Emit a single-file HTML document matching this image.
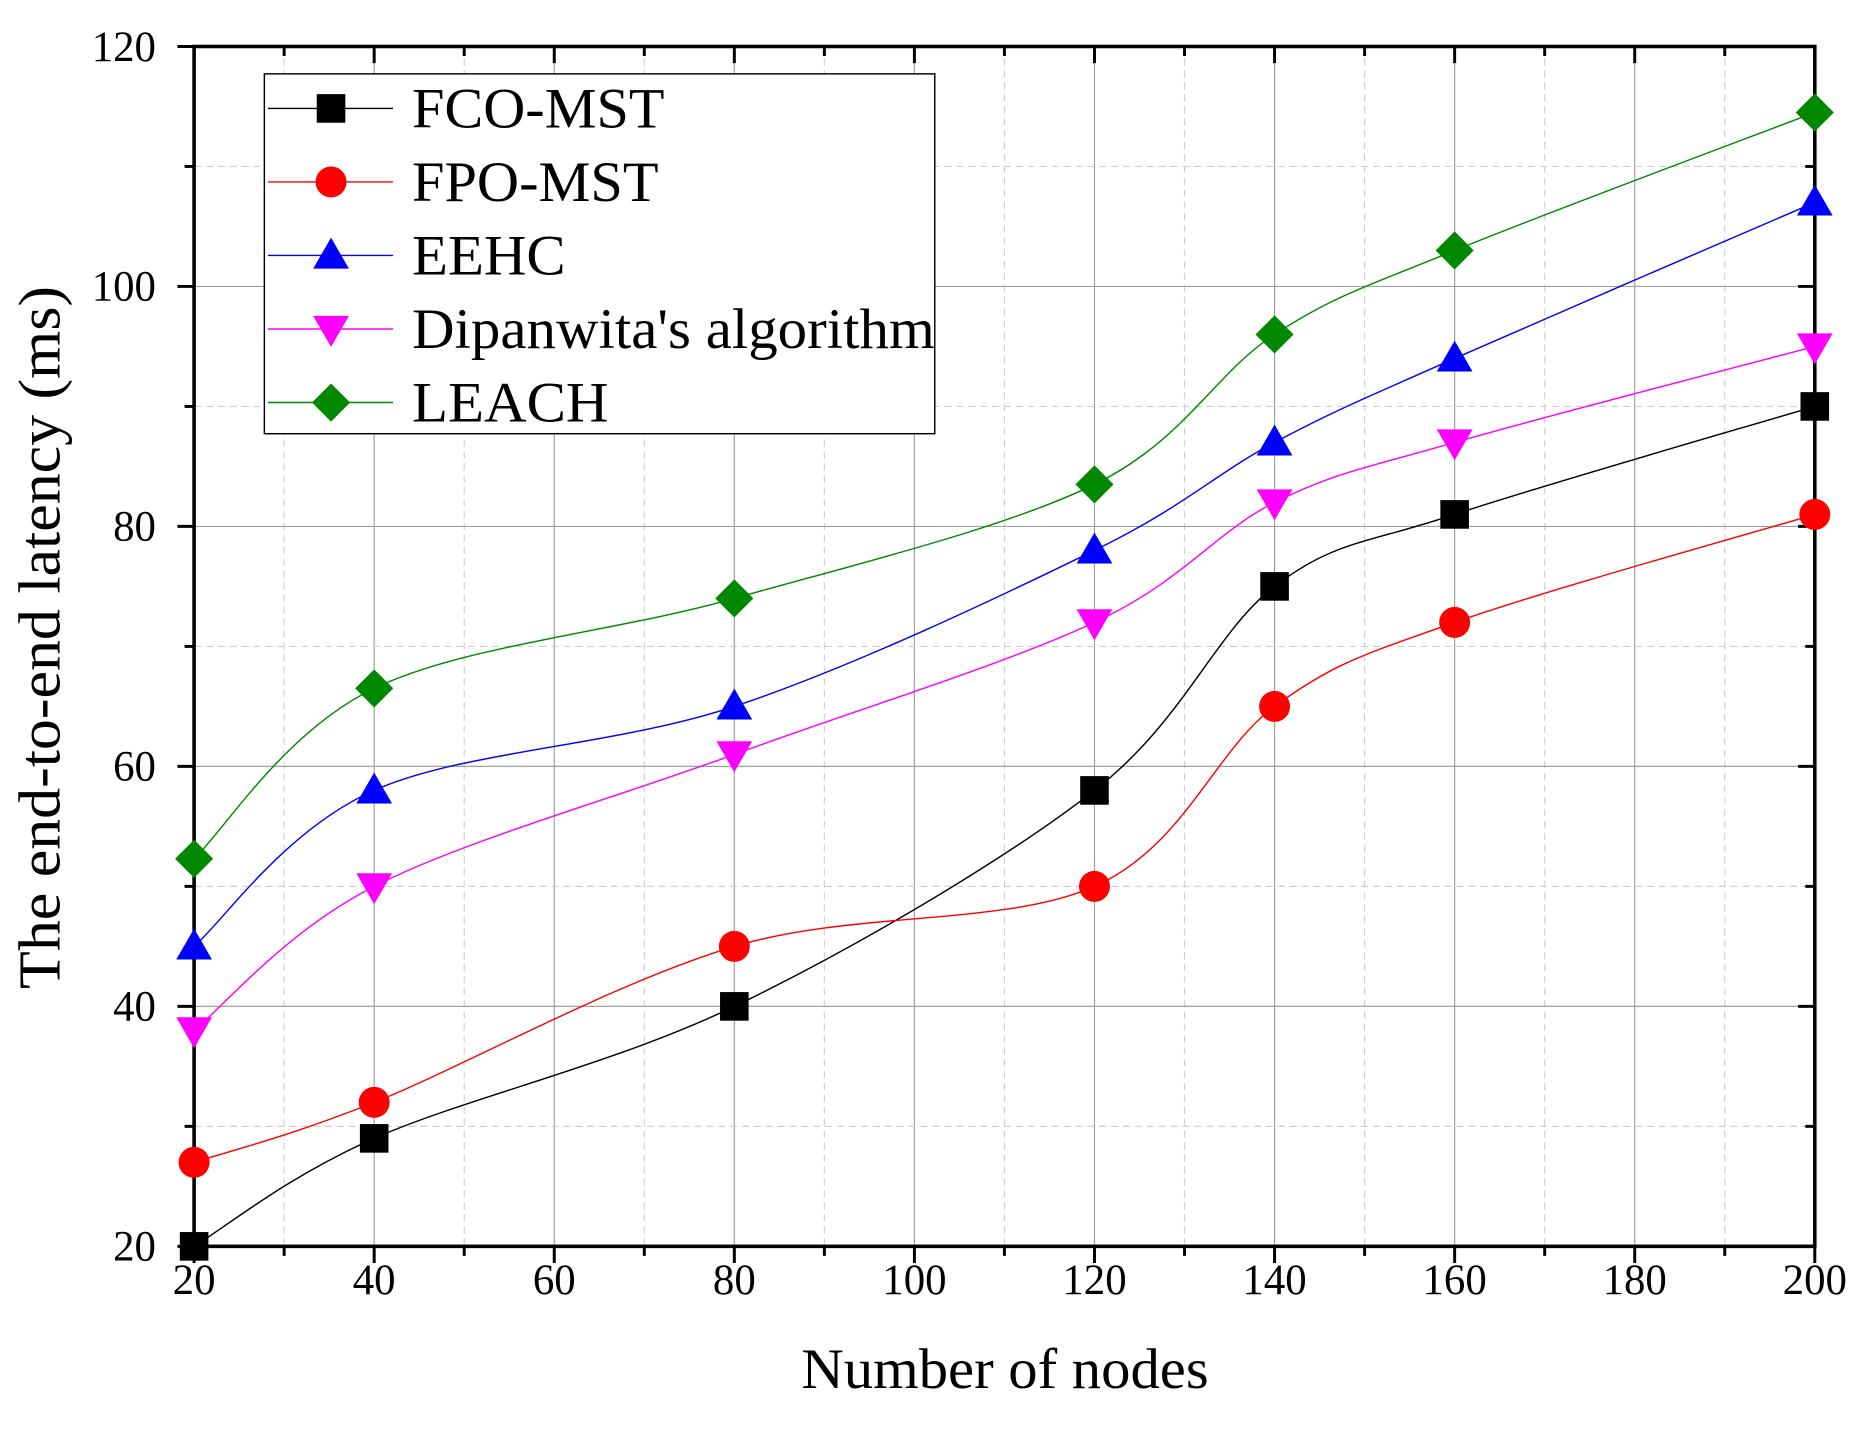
<!DOCTYPE html>
<html><head><meta charset="utf-8"><style>
html,body{margin:0;padding:0;background:#fff;}
svg{display:block;}
text{font-family:"Liberation Serif",serif;fill:#000;}
</style></head><body>
<svg id="s" width="1866" height="1437" viewBox="0 0 1567 1206" preserveAspectRatio="none" xmlns="http://www.w3.org/2000/svg"></svg>
<script>
const s=document.getElementById('s');
const NS='http://www.w3.org/2000/svg';
function el(t,a,txt){const e=document.createElementNS(NS,t);for(const k in a)e.setAttribute(k,a[k]);if(txt!==undefined)e.textContent=txt;s.appendChild(e);return e;}
const X=v=>163+(v-20)*(1524-163)/180, Y=v=>1046-(v-20)*(1046-39)/100;
for(let v=30;v<200;v+=10){const maj=(v%20==0);el('line',{x1:X(v),x2:X(v),y1:39,y2:1046,stroke:maj?'#a0a0a0':'#d0d0d0','stroke-width':1,'stroke-dasharray':maj?'':'6,4'});}
for(let v=30;v<120;v+=10){const maj=(v%20==0);el('line',{x1:163,x2:1524,y1:Y(v),y2:Y(v),stroke:maj?'#a0a0a0':'#d0d0d0','stroke-width':1,'stroke-dasharray':maj?'':'6,4'});}
for(let v=20;v<=200;v+=10){const L=v%20==0?14:8;el('line',{x1:X(v),x2:X(v),y1:1046,y2:1046+L,stroke:'#000','stroke-width':2.5});el('line',{x1:X(v),x2:X(v),y1:39,y2:39+L,stroke:'#000','stroke-width':2.5});}
for(let v=20;v<=120;v+=10){const L=v%20==0?14:8;el('line',{x1:163-L,x2:163,y1:Y(v),y2:Y(v),stroke:'#000','stroke-width':2.5});el('line',{x1:1524-L,x2:1524,y1:Y(v),y2:Y(v),stroke:'#000','stroke-width':2.5});}
el('rect',{x:163,y:39,width:1361,height:1007,fill:'none',stroke:'#000','stroke-width':3});
for(let v=20;v<=200;v+=20)el('text',{x:X(v),y:1086,'font-size':36,'text-anchor':'middle'},v);
for(let v=20;v<=120;v+=20)el('text',{x:131,y:Y(v)+12,'font-size':36,'text-anchor':'end'},v);
el('text',{x:844,y:1165,'font-size':48,'text-anchor':'middle',textLength:342,lengthAdjust:'spacingAndGlyphs'},'Number of nodes');
el('text',{x:0,y:0,'font-size':50,'text-anchor':'middle',textLength:590,lengthAdjust:'spacingAndGlyphs',transform:'translate(50,535) rotate(-90)'},'The end-to-end latency (ms)');
const xs=[20,40,80,120,140,160,200];
const series=[
['#000','sq',[20,29,40,58,75,81,90],'FCO-MST',212],
['#f00','ci',[27,32,45,50,65,72,81],'FPO-MST',207],
['#00f','tu',[45,58,65,78,87,94,107],'EEHC',129],
['#f0f','td',[38,50,61,72,82,87,95],"Dipanwita's algorithm",439],
['#080','di',[52.3,66.5,74,83.5,96,103,114.5],'LEACH',165]];
function marker(t,x,y,c){
 if(t=='sq')el('rect',{x:x-12,y:y-12,width:24,height:24,fill:c});
 if(t=='ci')el('circle',{cx:x,cy:y,r:13,fill:c});
 if(t=='tu')el('polygon',{points:`${x},${y-15} ${x+15},${y+11} ${x-15},${y+11}`,fill:c});
 if(t=='td')el('polygon',{points:`${x},${y+15} ${x+15},${y-11} ${x-15},${y-11}`,fill:c});
 if(t=='di')el('polygon',{points:`${x},${y-16} ${x+16},${y} ${x},${y+16} ${x-16},${y}`,fill:c});
}
for(const [c,t,ys] of series){
 const P=xs.map((x,i)=>[X(x),Y(ys[i])]);
 let d=`M${P[0][0]},${P[0][1]}`;
 for(let i=0;i<P.length-1;i++){const p0=P[Math.max(0,i-1)],p1=P[i],p2=P[i+1],p3=P[Math.min(P.length-1,i+2)];
  const c1=[p1[0]+(p2[0]-p0[0])/6,p1[1]+(p2[1]-p0[1])/6],c2=[p2[0]-(p3[0]-p1[0])/6,p2[1]-(p3[1]-p1[1])/6];
  d+=` C${c1[0]},${c1[1]} ${c2[0]},${c2[1]} ${p2[0]},${p2[1]}`;}
 el('path',{d,fill:'none',stroke:c,'stroke-width':1.2});
 P.forEach(p=>marker(t,p[0],p[1],c));
}
el('rect',{x:222,y:62,width:563,height:302,fill:'#fff',stroke:'#000','stroke-width':1.2});
series.forEach(([c,t,,n,w],i)=>{const y=91+i*61.7;el('line',{x1:225,x2:330,y1:y,y2:y,stroke:c,'stroke-width':1.2});marker(t,278,y,c);el('text',{x:346,y:y+16,'font-size':48,textLength:w,lengthAdjust:'spacingAndGlyphs'},n);});
</script>
</body></html>
